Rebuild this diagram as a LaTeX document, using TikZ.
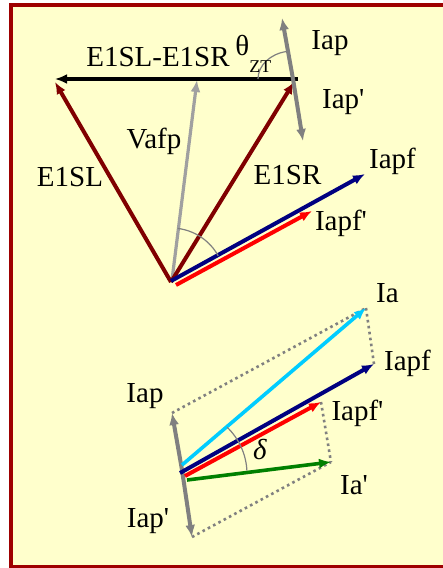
\documentclass[tikz,border=0pt]{standalone}
\usepackage{fontspec}
\setmainfont{Liberation Serif}
\usepackage{tikz}
\usetikzlibrary{arrows.meta}
\definecolor{PYellow}{HTML}{FFFFCC}
\definecolor{PFrame}{HTML}{9E0000}
\definecolor{PMaroon}{HTML}{800000}
\definecolor{PGray}{HTML}{808080}
\definecolor{PLight}{HTML}{A0A0A0}
\definecolor{PNavy}{HTML}{000080}
\definecolor{PRed}{HTML}{FF0000}
\definecolor{PCyan}{HTML}{00CCFF}
\definecolor{PGreen}{HTML}{008000}
\newcommand{\pr}{\textquotesingle}

\begin{document}
\begin{tikzpicture}[
  x=0.5pt,y=-0.5pt,
  v/.style={-{Latex[length=6pt,width=5pt]},line width=2pt},
  dot/.style={PGray,line width=1.3pt,dash pattern=on 1.3pt off 1.7pt},
  ang/.style={PGray,line width=0.6pt},
  lbl/.style={inner sep=0pt,font=\fontsize{14.5}{17}\selectfont}
]
  \clip (0,0) rectangle (443,568);
  \draw[PFrame,line width=1.6pt,fill=PYellow] (11,5) rectangle (480,567);

  % upper diagram
  \coordinate (o) at (171,282);
  \coordinate (vo) at (172,280);
  \coordinate (vafp) at (197,80);
  \coordinate (sl) at (55,82);
  \coordinate (sr) at (294,82);
  \coordinate (diffR) at (298,79);
  \coordinate (diffL) at (55,79);
  \coordinate (p) at (293,79);
  \coordinate (pu) at (282,18);
  \coordinate (pd) at (303,141);
  \coordinate (fo) at (171,281);
  \coordinate (f) at (365,174);
  \coordinate (ro) at (176,285);
  \coordinate (r) at (312,211);

  \draw[v,PLight,line width=1.6pt] (vo) -- (vafp);
  \draw[v,PMaroon] (o) -- (sl);
  \draw[v,PMaroon] (o) -- (sr);
  \draw[v,black,line width=1.8pt] (diffR) -- (diffL);
  \draw[v,PGray] (p) -- (pu);
  \draw[v,PGray] (p) -- (pd);
  \draw[v,PNavy] (fo) -- (f);
  \draw[v,PRed] (ro) -- (r);
  \draw[ang] (o) ++(-83:54) arc[start angle=-83,end angle=-29,radius=54];
  \draw[ang] (p) ++(180:35) arc[start angle=180,end angle=259.5,x radius=35,y radius=28];

  \node[lbl] (tDiff) at (158,56.7) {E1SL-E1SR};
  \node[lbl,anchor=base west] (tTheta) at (235,55)
    {θ\raisebox{-8.5pt}{\fontsize{9}{9}\selectfont ZT}};
  \node[lbl] (tIap) at (330,43.3) {Iap};
  \node[lbl] (tIapp) at (343.3,102.5) {Iap\pr};
  \node[lbl] (tVafp) at (154,141) {Vafp};
  \node[lbl] (tSL) at (70,177.5) {E1SL};
  \node[lbl] (tSR) at (287.5,175) {E1SR};
  \node[lbl] (tIapf) at (392.5,161) {Iapf};
  \node[lbl] (tIapfp) at (341,223.3) {Iapf\pr};

  % lower diagram
  \coordinate (q) at (182,470);
  \coordinate (qu) at (172,413);
  \coordinate (qd) at (192,537);
  \coordinate (ao) at (182,465);
  \coordinate (a) at (366,308);
  \coordinate (go) at (180,473);
  \coordinate (g) at (374,364);
  \coordinate (bo) at (185,476);
  \coordinate (b) at (321,402);
  \coordinate (co) at (187,480);
  \coordinate (c) at (331,462);

  \draw[v,PGray] (q) -- (qu);
  \draw[v,PGray] (q) -- (qd);
  \foreach \x/\y in {qu/a,a/g,b/c,qd/c}
    {\draw[dot] (\x) -- (\y);}
  \draw[v,PCyan,line width=1.8pt] (ao) -- (a);
  \draw[v,PNavy] (go) -- (g);
  \draw[v,PRed] (bo) -- (b);
  \draw[v,PGreen,line width=1.8pt] (co) -- (c);
  \draw[ang] (182,474) ++(-46:65) arc[start angle=-46,end angle=-3,radius=65];

  \node[lbl] (tIa) at (387.5,293) {Ia};
  \node[lbl] (tIapf2) at (407.5,363) {Iapf};
  \node[lbl] (tIap2) at (145,396) {Iap};
  \node[lbl] (tIapfp2) at (357.5,413) {Iapf\pr};
  \node[lbl] (tDelta) at (260,450) {\textit{δ}};
  \node[lbl] (tIap2p) at (354,485) {Ia\pr};
  \node[lbl] (tIapp2) at (148,521) {Iap\pr};
\end{tikzpicture}
\end{document}
